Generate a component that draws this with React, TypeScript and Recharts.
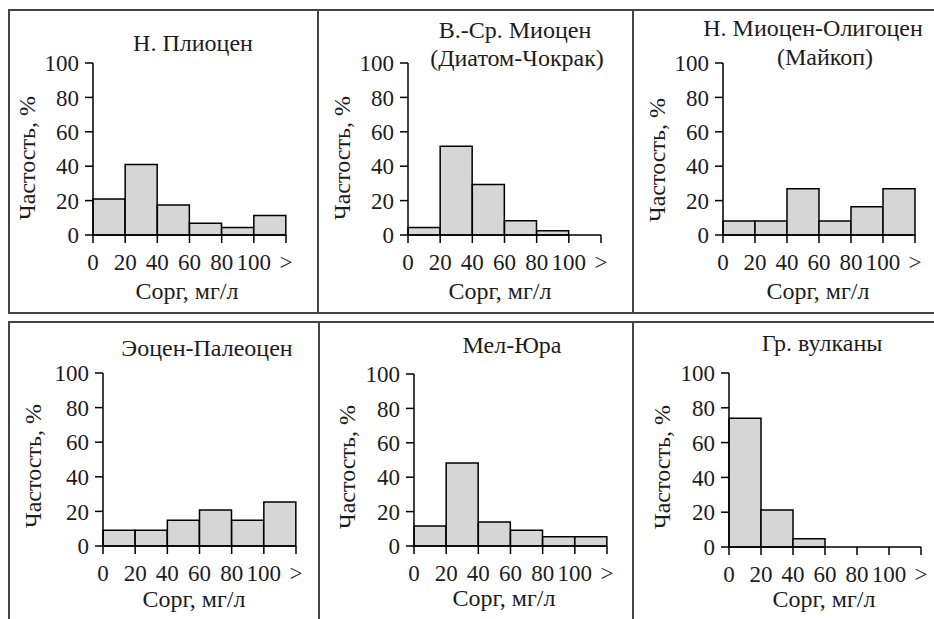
import React from "react";
import { BarChart, Bar, XAxis, YAxis } from "recharts";

// bin starts, Сорг, мг/л (last bin is "> 100")
const binStarts = [0, 20, 40, 60, 80, 100];
const edgeTicks = [0, 20, 40, 60, 80, 100, 120];
const yTicks = [0, 20, 40, 60, 80, 100];

const pliocene = [21, 41, 17.4, 6.8, 4.4, 11.4];
const miocene = [4.3, 51.6, 29.4, 8.3, 2.5, 0];
const maikop = [8.1, 8.1, 26.9, 8.1, 16.4, 26.9];
const eocene = [9.1, 9.1, 14.9, 20.8, 14.9, 25.5];
const cretJur = [11.6, 48.3, 14, 9.1, 5.4, 5.4];
const volcano = [74, 21.2, 4.8, 0, 0, 0];

const titles = [
  ["Н. Плиоцен"],
  ["В.-Ср. Миоцен", "(Диатом-Чокрак)"],
  ["Н. Миоцен-Олигоцен", "(Майкоп)"],
  ["Эоцен-Палеоцен"],
  ["Мел-Юра"],
  ["Гр. вулканы"],
];
const seriesList = [pliocene, miocene, maikop, eocene, cretJur, volcano];

// layout: plot box (L,R,T,B), title line centres, axis label centres
const layout = [
  { L: 93, R: 286, T: 63, B: 235, title: [[193, 43]], yl: [27, 158], xl: [187, 291] },
  { L: 408, R: 601, T: 63, B: 235, title: [[515, 30], [517, 58]], yl: [342, 158], xl: [500, 291] },
  { L: 723, R: 915, T: 63, B: 235, title: [[813, 28], [825, 57]], yl: [657, 160], xl: [818, 291] },
  { L: 103, R: 296, T: 373, B: 546, title: [[207, 348]], yl: [33, 466], xl: [194, 599] },
  { L: 414, R: 607, T: 374, B: 546, title: [[512, 345]], yl: [347, 467], xl: [504, 598] },
  { L: 729, R: 921, T: 373, B: 547, title: [[822, 343]], yl: [662, 467], xl: [824, 599] },
];

const FONT = "'Liberation Serif', 'Noto Serif', 'DejaVu Serif', 'Times New Roman', serif";
const FS = 23;
const LABEL_FS = 24;
const INK = "#1c1c1c";

function Txt({ x, y, children, rotate }: { x: number; y: number; children: React.ReactNode; rotate?: boolean }) {
  return (
    <div
      style={{
        position: "absolute",
        left: x,
        top: y,
        transform: `translate(-50%, -50%)${rotate ? " rotate(-90deg)" : ""}`,
        whiteSpace: "nowrap",
        fontFamily: FONT,
        fontSize: LABEL_FS,
        color: INK,
        lineHeight: 1,
      }}
    >
      {children}
    </div>
  );
}

function Panel({ idx }: { idx: number }) {
  const p = layout[idx];
  const data = binStarts.map((s, i) => ({ x: s + 10, v: seriesList[idx][i] }));
  const w = p.R - p.L + 80;
  const h = p.B - p.T + 60;
  const tickStyle = { fill: INK, fontSize: FS, fontFamily: FONT };
  return (
    <>
      <div style={{ position: "absolute", left: p.L - 60, top: p.T - 20 }}>
        <BarChart
          width={w}
          height={h}
          data={data}
          margin={{ top: 20, right: 20, bottom: 0, left: 0 }}
          barCategoryGap={0}
          barGap={0}
        >
          <XAxis
            dataKey="x"
            type="number"
            domain={[0, 120]}
            ticks={edgeTicks}
            interval={0}
            tickFormatter={(v: number) => (v === 120 ? ">" : String(v))}
            tickSize={8}
            tickMargin={11}
            height={40}
            axisLine={{ stroke: "#000", strokeWidth: 1.5 }}
            tickLine={{ stroke: "#000", strokeWidth: 1.5 }}
            tick={tickStyle}
          />
          <YAxis
            type="number"
            domain={[0, 100]}
            ticks={yTicks}
            interval={0}
            width={60}
            tickSize={8}
            tickMargin={6}
            axisLine={{ stroke: "#000", strokeWidth: 1.5 }}
            tickLine={{ stroke: "#000", strokeWidth: 1.5 }}
            tick={tickStyle}
          />
          <Bar dataKey="v" fill="#d6d6d6" stroke="#000" strokeWidth={1.5} isAnimationActive={false} />
        </BarChart>
      </div>
      {titles[idx].map((line, i) => (
        <Txt key={i} x={p.title[i][0]} y={p.title[i][1]}>
          {line}
        </Txt>
      ))}
      <Txt x={p.yl[0]} y={p.yl[1]} rotate>
        Частость, %
      </Txt>
      <Txt x={p.xl[0]} y={p.xl[1]}>Сорг, мг/л</Txt>
    </>
  );
}

const frame = "2px solid #444";

export default function App() {
  return (
    <div
      style={{
        position: "absolute",
        left: 0,
        top: 0,
        width: 934,
        height: 619,
        overflow: "hidden",
        background: "#fff",
      }}
    >
      <div style={{ position: "absolute", left: 8, top: 9, width: 960, height: 301, border: frame }} />
      <div style={{ position: "absolute", left: 317, top: 9, width: 2, height: 305, background: "#444" }} />
      <div style={{ position: "absolute", left: 632, top: 9, width: 2, height: 305, background: "#444" }} />
      <div style={{ position: "absolute", left: 8, top: 321, width: 960, height: 400, border: frame }} />
      <div style={{ position: "absolute", left: 318, top: 321, width: 2, height: 300, background: "#444" }} />
      <div style={{ position: "absolute", left: 632, top: 321, width: 2, height: 300, background: "#444" }} />
      {layout.map((_, i) => (
        <Panel key={i} idx={i} />
      ))}
    </div>
  );
}
